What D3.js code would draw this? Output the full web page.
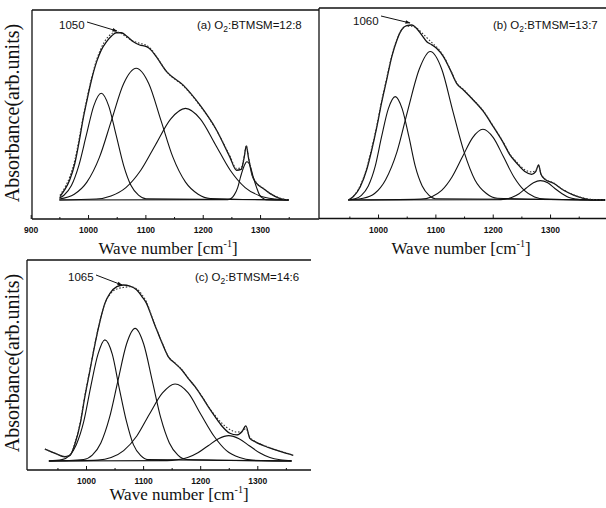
<!DOCTYPE html>
<html>
<head>
<meta charset="utf-8">
<script src="https://cdn.jsdelivr.net/npm/d3@7"></script>
<style>
  body { margin: 0; background: #fff; }
  svg { display: block; }
</style>
</head>
<body>
<div id="chart"></div>
<script>
// Déconvolution IR Si-O-Si : trois films O2:BTMSM.
// Chaque panneau : spectre mesuré (pointillé), enveloppe ajustée (trait),
// et quatre composantes. Abscisse en cm-1, ordonnée en unités arbitraires.

// ---- (a) O2:BTMSM = 12:8
const waveA = [951, 959, 968, 977, 985, 991, 997, 1006, 1015, 1023, 1032, 1041, 1049, 1058, 1067, 1079, 1090, 1102, 1110, 1119, 1137, 1166, 1195, 1224, 1247, 1259, 1267, 1272, 1276, 1280, 1286, 1294, 1305, 1317, 1334, 1349]
const fitA = [0.02, 0.059, 0.118, 0.216, 0.353, 0.47, 0.569, 0.706, 0.814, 0.882, 0.931, 0.965, 0.984, 0.984, 0.965, 0.931, 0.912, 0.902, 0.882, 0.843, 0.755, 0.676, 0.559, 0.412, 0.255, 0.175, 0.18, 0.245, 0.318, 0.245, 0.147, 0.098, 0.069, 0.039, 0.01, 0]
const measA = [0.028, 0.07, 0.135, 0.235, 0.37, 0.48, 0.58, 0.715, 0.825, 0.895, 0.948, 0.978, 0.99, 0.98, 0.958, 0.935, 0.922, 0.91, 0.888, 0.846, 0.755, 0.672, 0.556, 0.41, 0.262, 0.185, 0.19, 0.25, 0.32, 0.25, 0.15, 0.1, 0.07, 0.04, 0.012, 0]
const peaksA = [
  [[950, 0.012], [958, 0.028], [971, 0.085], [984, 0.204], [997, 0.381], [1010, 0.554], [1023, 0.628], [1036, 0.554], [1049, 0.381], [1062, 0.204], [1075, 0.085], [1088, 0.028], [1101, 0.007], [1350, 0]],
  [[950, 0.006], [976, 0.034], [998, 0.105], [1020, 0.252], [1041, 0.47], [1062, 0.684], [1084, 0.775], [1106, 0.684], [1127, 0.47], [1148, 0.252], [1170, 0.105], [1192, 0.034], [1213, 0.009], [1350, 0]],
  [[950, 0], [1014, 0.006], [1040, 0.024], [1066, 0.073], [1092, 0.175], [1118, 0.327], [1144, 0.476], [1170, 0.539], [1196, 0.476], [1222, 0.327], [1248, 0.175], [1274, 0.073], [1300, 0.024], [1326, 0.006], [1350, 0]],
  [[950, 0], [1244, 0.002], [1250, 0.01], [1255, 0.03], [1261, 0.073], [1266, 0.136], [1272, 0.199], [1277, 0.225], [1283, 0.199], [1288, 0.136], [1294, 0.073], [1299, 0.03], [1305, 0.01], [1310, 0.002], [1350, 0]],
]

// ---- (b) O2:BTMSM = 13:7
const waveB = [948, 957, 969, 980, 989, 998, 1006, 1015, 1024, 1033, 1041, 1050, 1059, 1067, 1076, 1085, 1094, 1102, 1114, 1126, 1137, 1149, 1166, 1184, 1201, 1219, 1230, 1242, 1256, 1268, 1275, 1280, 1284, 1291, 1306, 1323, 1341, 1358, 1376, 1396]
const fitB = [0, 0.02, 0.078, 0.176, 0.294, 0.431, 0.569, 0.706, 0.843, 0.941, 1.0, 1.025, 1.029, 1.01, 0.971, 0.931, 0.912, 0.892, 0.843, 0.765, 0.686, 0.647, 0.588, 0.519, 0.431, 0.333, 0.265, 0.216, 0.167, 0.151, 0.167, 0.206, 0.153, 0.122, 0.098, 0.059, 0.029, 0.01, 0, 0]
const measB = [0, 0.022, 0.085, 0.185, 0.305, 0.44, 0.578, 0.715, 0.85, 0.945, 1.0, 1.022, 1.022, 1.012, 0.985, 0.955, 0.925, 0.9, 0.848, 0.768, 0.69, 0.65, 0.59, 0.522, 0.434, 0.336, 0.27, 0.222, 0.178, 0.165, 0.172, 0.2, 0.155, 0.124, 0.1, 0.06, 0.03, 0.012, 0.003, 0]
const peaksB = [
  [[948, 0.001], [960, 0.007], [971, 0.027], [983, 0.082], [995, 0.197], [1006, 0.369], [1018, 0.537], [1030, 0.608], [1042, 0.537], [1054, 0.369], [1065, 0.197], [1077, 0.082], [1089, 0.027], [1100, 0.007], [1396, 0]],
  [[948, 0.001], [974, 0.01], [994, 0.038], [1013, 0.118], [1033, 0.283], [1052, 0.529], [1072, 0.77], [1091, 0.873], [1111, 0.77], [1130, 0.529], [1150, 0.283], [1169, 0.118], [1189, 0.038], [1208, 0.01], [1396, 0]],
  [[948, 0], [1075, 0.005], [1093, 0.018], [1111, 0.056], [1129, 0.135], [1147, 0.252], [1165, 0.367], [1183, 0.416], [1201, 0.367], [1219, 0.252], [1237, 0.135], [1255, 0.056], [1273, 0.018], [1291, 0.005], [1396, 0]],
  [[948, 0], [1208, 0.001], [1221, 0.005], [1233, 0.015], [1246, 0.037], [1258, 0.069], [1271, 0.101], [1283, 0.114], [1296, 0.101], [1308, 0.069], [1321, 0.037], [1333, 0.015], [1346, 0.005], [1358, 0.001], [1396, 0]],
]

// ---- (c) O2:BTMSM = 14:6
const waveC = [928, 946, 963, 972, 981, 990, 998, 1007, 1016, 1025, 1033, 1042, 1054, 1065, 1077, 1089, 1098, 1106, 1115, 1124, 1136, 1144, 1156, 1168, 1179, 1191, 1203, 1214, 1226, 1238, 1252, 1264, 1273, 1280, 1287, 1296, 1319, 1343, 1363]
const fitC = [0.07, 0.045, 0.025, 0.033, 0.104, 0.221, 0.378, 0.535, 0.692, 0.829, 0.927, 0.986, 1.025, 1.035, 1.029, 1.006, 0.967, 0.927, 0.849, 0.77, 0.672, 0.614, 0.574, 0.535, 0.486, 0.437, 0.378, 0.32, 0.261, 0.206, 0.163, 0.153, 0.172, 0.206, 0.133, 0.114, 0.08, 0.053, 0.033]
const measC = [0.07, 0.045, 0.025, 0.035, 0.11, 0.23, 0.385, 0.54, 0.695, 0.83, 0.925, 0.98, 1.012, 1.02, 1.025, 1.012, 0.978, 0.935, 0.852, 0.772, 0.674, 0.616, 0.576, 0.536, 0.487, 0.438, 0.38, 0.322, 0.268, 0.222, 0.185, 0.17, 0.175, 0.19, 0.14, 0.116, 0.082, 0.055, 0.035]
const peaksC = [
  [[935, 0], [958, 0.008], [971, 0.031], [983, 0.096], [996, 0.231], [1008, 0.432], [1021, 0.628], [1033, 0.712], [1046, 0.628], [1058, 0.432], [1071, 0.231], [1083, 0.096], [1096, 0.031], [1108, 0.008], [1360, 0]],
  [[935, 0], [996, 0.009], [1011, 0.034], [1026, 0.106], [1041, 0.253], [1056, 0.473], [1071, 0.688], [1086, 0.78], [1101, 0.688], [1116, 0.473], [1131, 0.253], [1146, 0.106], [1161, 0.034], [1176, 0.009], [1360, 0]],
  [[935, 0], [1021, 0.005], [1044, 0.02], [1066, 0.061], [1089, 0.147], [1111, 0.275], [1134, 0.4], [1156, 0.453], [1179, 0.4], [1201, 0.275], [1224, 0.147], [1246, 0.061], [1269, 0.02], [1291, 0.005], [1360, 0]],
  [[935, 0], [1142, 0.002], [1160, 0.007], [1178, 0.02], [1196, 0.048], [1214, 0.09], [1232, 0.131], [1250, 0.149], [1268, 0.131], [1286, 0.09], [1304, 0.048], [1322, 0.02], [1340, 0.007], [1358, 0.002], [1360, 0]],
]

const peakLabels = ["1050", "1060", "1065"]
const sampleLabels = [["(a) O", "2", ":BTMSM=12:8"], ["(b) O", "2", ":BTMSM=13:7"], ["(c) O", "2", ":BTMSM=14:6"]]
const tickSets = [[900, 1000, 1100, 1200, 1300], [1000, 1100, 1200, 1300], [1000, 1100, 1200, 1300]]
const minorTicks = [950, 1050, 1150, 1250, 1350]

// Géométrie des trois cadres (pixels), repérée sur la figure.
const layout = [
  { x0: 30.7, x1: 317.4, yDom: [-0.112, 1.118], yR: [219, 10],
    frame: { left: 32, right: 319, top: 10, bottom: 219 },
    label: [59, 29], arrow: [[87, 22], [117, 31]], sample: [197, 29],
    xTitle: [168, 254], yTitle: [19, 113] },
  { x0: 320.7, x1: 607.4, yDom: [-0.109, 1.129], yR: [218.5, 8],
    frame: { left: 319, right: 606, top: 8, bottom: 218.5 },
    label: [353, 25], arrow: [[381, 16], [410, 23]], sample: [493, 29],
    xTitle: [461, 254] },
  { x0: 28.9, x1: 314.4, yDom: [-0.053, 1.182], yR: [470, 260],
    frame: { left: 27, right: 311, top: 260, bottom: 470 },
    label: [68, 281], arrow: [[96, 275], [122, 285]], sample: [195, 281],
    xTitle: [179, 500], yTitle: [19, 363] },
]

const panelData = [
  { wave: waveA, fit: fitA, meas: measA, peaks: peaksA },
  { wave: waveB, fit: fitB, meas: measB, peaks: peaksB },
  { wave: waveC, fit: fitC, meas: measC, peaks: peaksC },
]

const W = 606, H = 508
const ink = "#111"
const serif = "'Liberation Serif', 'DejaVu Serif', serif"
const sans = "'Liberation Sans', Arial, sans-serif"

const svg = d3.select("#chart").append("svg")
  .attr("width", W).attr("height", H)
  .attr("viewBox", `0 0 ${W} ${H}`)
  .style("background", "#fff")

svg.append("defs").append("marker")
  .attr("id", "arrow")
  .attr("viewBox", "0 0 10 10")
  .attr("refX", 9).attr("refY", 5)
  .attr("markerWidth", 6).attr("markerHeight", 5)
  .attr("orient", "auto")
  .append("path").attr("d", "M0,1.5 L10,5 L0,8.5 Z").attr("fill", ink)

layout.forEach((L, i) => {
  const D = panelData[i]
  const x = d3.scaleLinear().domain([900, 1400]).range([L.x0, L.x1])
  const y = d3.scaleLinear().domain(L.yDom).range(L.yR)
  const g = svg.append("g")
  const f = L.frame

  // Cadre : gauche, haut, bas (pas de bord droit sur la figure)
  g.append("line").attr("x1", f.left).attr("x2", f.right).attr("y1", f.top).attr("y2", f.top)
    .attr("stroke", ink).attr("stroke-width", 1.3)
  g.append("line").attr("x1", f.left).attr("x2", f.right).attr("y1", f.bottom).attr("y2", f.bottom)
    .attr("stroke", ink).attr("stroke-width", 1.3)
  g.append("line").attr("x1", f.left).attr("x2", f.left).attr("y1", f.top).attr("y2", f.bottom)
    .attr("stroke", ink).attr("stroke-width", 1.3)

  // Axe bas : graduations vers l'intérieur
  const axis = g.append("g").attr("transform", `translate(0,${f.bottom})`)
    .call(d3.axisBottom(x).tickValues(tickSets[i]).tickFormat(d3.format("d")).tickSize(-4).tickPadding(8))
  axis.select(".domain").remove()
  axis.selectAll("line").attr("stroke", ink).attr("stroke-width", 1)
  axis.selectAll("text")
    .attr("font-family", sans).attr("font-size", 8.5).attr("font-weight", "bold").attr("fill", ink)

  const minor = g.append("g").attr("transform", `translate(0,${f.bottom})`)
    .call(d3.axisBottom(x).tickValues(minorTicks).tickSize(-2).tickFormat(""))
  minor.select(".domain").remove()
  minor.selectAll("line").attr("stroke", ink).attr("stroke-width", 1)

  // Composantes
  const comp = d3.line().x((d) => x(d[0])).y((d) => y(d[1])).curve(d3.curveMonotoneX)
  g.selectAll("path.peak")
    .data(D.peaks)
    .join("path")
    .attr("class", "peak")
    .attr("d", comp)
    .attr("fill", "none").attr("stroke", ink).attr("stroke-width", 1.1)

  // Enveloppe ajustée + spectre mesuré
  const env = d3.line().x((d) => x(d[0])).y((d) => y(d[1])).curve(d3.curveMonotoneX)
  g.append("path")
    .attr("d", env(D.wave.map((w, k) => [w, D.fit[k]])))
    .attr("fill", "none").attr("stroke", ink).attr("stroke-width", 1.3)
  g.append("path")
    .attr("d", env(D.wave.map((w, k) => [w, D.meas[k]])))
    .attr("fill", "none").attr("stroke", "#333").attr("stroke-width", 1.1)
    .attr("stroke-dasharray", "1.5,1.8")

  // Annotation du pic principal
  g.append("text").attr("x", L.label[0]).attr("y", L.label[1])
    .attr("font-family", sans).attr("font-size", 11.5).attr("fill", ink)
    .text(peakLabels[i])
  g.append("line")
    .attr("x1", L.arrow[0][0]).attr("y1", L.arrow[0][1])
    .attr("x2", L.arrow[1][0]).attr("y2", L.arrow[1][1])
    .attr("stroke", ink).attr("stroke-width", 1)
    .attr("marker-end", "url(#arrow)")

  // Étiquette d'échantillon avec O2 en indice
  const s = g.append("text").attr("x", L.sample[0]).attr("y", L.sample[1])
    .attr("font-family", sans).attr("font-size", 11.5).attr("fill", ink)
  s.append("tspan").text(sampleLabels[i][0])
  s.append("tspan").attr("dy", 3).attr("font-size", 8.5).text(sampleLabels[i][1])
  s.append("tspan").attr("dy", -3).text(sampleLabels[i][2])

  // Titres d'axes
  const xt = g.append("text").attr("x", L.xTitle[0]).attr("y", L.xTitle[1])
    .attr("text-anchor", "middle")
    .attr("font-family", serif).attr("font-size", 17).attr("fill", ink)
  xt.append("tspan").text("Wave number [cm")
  xt.append("tspan").attr("dy", -7).attr("font-size", 10).text("-1")
  xt.append("tspan").attr("dy", 7).text("]")

  if (L.yTitle) {
    g.append("text")
      .attr("transform", `translate(${L.yTitle[0]},${L.yTitle[1]}) rotate(-90)`)
      .attr("text-anchor", "middle")
      .attr("font-family", serif).attr("font-size", 20).attr("fill", ink)
      .text("Absorbance(arb.units)")
  }
})
</script>
</body>
</html>
